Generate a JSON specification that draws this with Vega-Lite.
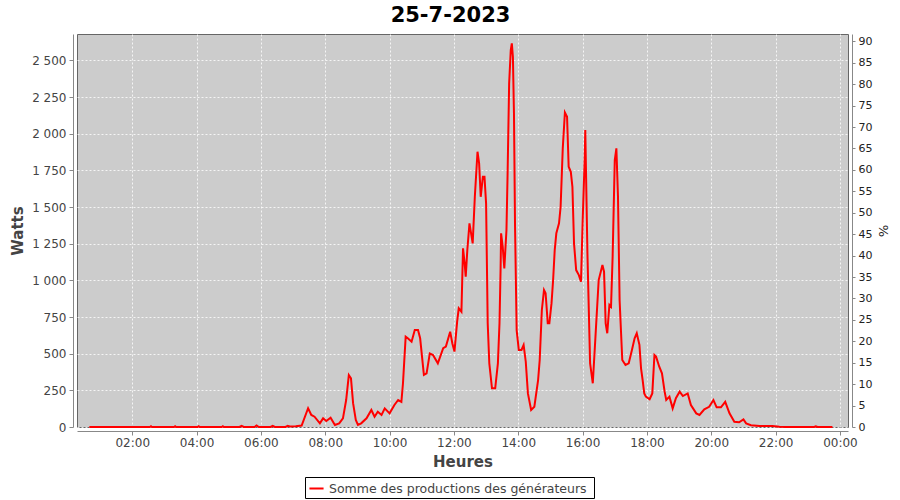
{
  "$schema": "https://vega.github.io/schema/vega-lite/v6.json",
  "width": 771,
  "height": 393,
  "autosize": {"type": "none"},
  "padding": {"left": 77, "top": 34, "right": 52, "bottom": 73},
  "background": "white",
  "config": {
    "font": "DejaVu Sans",
    "view": {"fill": "#cccccc", "stroke": "#666666", "strokeWidth": 1}
  },
  "title": {"text": "25-7-2023", "fontSize": 21, "fontWeight": "bold", "color": "#000000", "font": "DejaVu Sans", "offset": 8, "dx": -12},
  "layer": [
    {
      "data": {"values": [
        {"t": "2023-07-25T00:40", "w": 0},
        {"t": "2023-07-25T01:20", "w": 0},
        {"t": "2023-07-25T02:00", "w": 0},
        {"t": "2023-07-25T02:33", "w": 0},
        {"t": "2023-07-25T02:35", "w": 5},
        {"t": "2023-07-25T02:37", "w": 0},
        {"t": "2023-07-25T03:18", "w": 0},
        {"t": "2023-07-25T03:20", "w": 5},
        {"t": "2023-07-25T03:22", "w": 0},
        {"t": "2023-07-25T04:02", "w": 0},
        {"t": "2023-07-25T04:04", "w": 5},
        {"t": "2023-07-25T04:06", "w": 0},
        {"t": "2023-07-25T04:47", "w": 0},
        {"t": "2023-07-25T04:49", "w": 5},
        {"t": "2023-07-25T04:51", "w": 0},
        {"t": "2023-07-25T05:20", "w": 0},
        {"t": "2023-07-25T05:24", "w": 8},
        {"t": "2023-07-25T05:28", "w": 0},
        {"t": "2023-07-25T05:48", "w": 0},
        {"t": "2023-07-25T05:52", "w": 10},
        {"t": "2023-07-25T05:56", "w": 0},
        {"t": "2023-07-25T06:18", "w": 0},
        {"t": "2023-07-25T06:22", "w": 8},
        {"t": "2023-07-25T06:26", "w": 0},
        {"t": "2023-07-25T06:46", "w": 0},
        {"t": "2023-07-25T06:50", "w": 8},
        {"t": "2023-07-25T06:54", "w": 3},
        {"t": "2023-07-25T07:05", "w": 5},
        {"t": "2023-07-25T07:16", "w": 10},
        {"t": "2023-07-25T07:28", "w": 128},
        {"t": "2023-07-25T07:34", "w": 82},
        {"t": "2023-07-25T07:40", "w": 70},
        {"t": "2023-07-25T07:50", "w": 25},
        {"t": "2023-07-25T07:56", "w": 59},
        {"t": "2023-07-25T08:02", "w": 41},
        {"t": "2023-07-25T08:10", "w": 63},
        {"t": "2023-07-25T08:18", "w": 14},
        {"t": "2023-07-25T08:26", "w": 25},
        {"t": "2023-07-25T08:33", "w": 59},
        {"t": "2023-07-25T08:39", "w": 184},
        {"t": "2023-07-25T08:44", "w": 354},
        {"t": "2023-07-25T08:48", "w": 332},
        {"t": "2023-07-25T08:52", "w": 161},
        {"t": "2023-07-25T08:57", "w": 48},
        {"t": "2023-07-25T09:01", "w": 14},
        {"t": "2023-07-25T09:07", "w": 25},
        {"t": "2023-07-25T09:17", "w": 59},
        {"t": "2023-07-25T09:26", "w": 116},
        {"t": "2023-07-25T09:32", "w": 70},
        {"t": "2023-07-25T09:38", "w": 104},
        {"t": "2023-07-25T09:45", "w": 82},
        {"t": "2023-07-25T09:51", "w": 127},
        {"t": "2023-07-25T10:00", "w": 93},
        {"t": "2023-07-25T10:09", "w": 150},
        {"t": "2023-07-25T10:16", "w": 184},
        {"t": "2023-07-25T10:22", "w": 172},
        {"t": "2023-07-25T10:25", "w": 298},
        {"t": "2023-07-25T10:30", "w": 616},
        {"t": "2023-07-25T10:34", "w": 605},
        {"t": "2023-07-25T10:41", "w": 582},
        {"t": "2023-07-25T10:47", "w": 661},
        {"t": "2023-07-25T10:53", "w": 661},
        {"t": "2023-07-25T10:57", "w": 605},
        {"t": "2023-07-25T11:04", "w": 355},
        {"t": "2023-07-25T11:09", "w": 366},
        {"t": "2023-07-25T11:15", "w": 502},
        {"t": "2023-07-25T11:21", "w": 491},
        {"t": "2023-07-25T11:30", "w": 434},
        {"t": "2023-07-25T11:40", "w": 537},
        {"t": "2023-07-25T11:45", "w": 548},
        {"t": "2023-07-25T11:53", "w": 650},
        {"t": "2023-07-25T11:57", "w": 571},
        {"t": "2023-07-25T12:01", "w": 514},
        {"t": "2023-07-25T12:06", "w": 718},
        {"t": "2023-07-25T12:09", "w": 809},
        {"t": "2023-07-25T12:14", "w": 786},
        {"t": "2023-07-25T12:17", "w": 1218},
        {"t": "2023-07-25T12:20", "w": 1116},
        {"t": "2023-07-25T12:22", "w": 1025},
        {"t": "2023-07-25T12:25", "w": 1207},
        {"t": "2023-07-25T12:29", "w": 1389},
        {"t": "2023-07-25T12:32", "w": 1321},
        {"t": "2023-07-25T12:35", "w": 1252},
        {"t": "2023-07-25T12:39", "w": 1570},
        {"t": "2023-07-25T12:44", "w": 1877},
        {"t": "2023-07-25T12:47", "w": 1798},
        {"t": "2023-07-25T12:50", "w": 1570},
        {"t": "2023-07-25T12:54", "w": 1707},
        {"t": "2023-07-25T12:57", "w": 1707},
        {"t": "2023-07-25T13:00", "w": 1525},
        {"t": "2023-07-25T13:03", "w": 707},
        {"t": "2023-07-25T13:06", "w": 434},
        {"t": "2023-07-25T13:11", "w": 264},
        {"t": "2023-07-25T13:17", "w": 264},
        {"t": "2023-07-25T13:22", "w": 434},
        {"t": "2023-07-25T13:25", "w": 707},
        {"t": "2023-07-25T13:27", "w": 1070},
        {"t": "2023-07-25T13:28", "w": 1321},
        {"t": "2023-07-25T13:31", "w": 1229},
        {"t": "2023-07-25T13:34", "w": 1082},
        {"t": "2023-07-25T13:38", "w": 1343},
        {"t": "2023-07-25T13:40", "w": 1707},
        {"t": "2023-07-25T13:43", "w": 2343},
        {"t": "2023-07-25T13:46", "w": 2570},
        {"t": "2023-07-25T13:48", "w": 2616},
        {"t": "2023-07-25T13:50", "w": 2525},
        {"t": "2023-07-25T13:52", "w": 2139},
        {"t": "2023-07-25T13:54", "w": 1366},
        {"t": "2023-07-25T13:57", "w": 661},
        {"t": "2023-07-25T14:01", "w": 525},
        {"t": "2023-07-25T14:06", "w": 525},
        {"t": "2023-07-25T14:10", "w": 559},
        {"t": "2023-07-25T14:14", "w": 445},
        {"t": "2023-07-25T14:18", "w": 229},
        {"t": "2023-07-25T14:24", "w": 116},
        {"t": "2023-07-25T14:30", "w": 138},
        {"t": "2023-07-25T14:37", "w": 320},
        {"t": "2023-07-25T14:40", "w": 457},
        {"t": "2023-07-25T14:44", "w": 798},
        {"t": "2023-07-25T14:48", "w": 934},
        {"t": "2023-07-25T14:51", "w": 912},
        {"t": "2023-07-25T14:55", "w": 707},
        {"t": "2023-07-25T14:58", "w": 707},
        {"t": "2023-07-25T15:02", "w": 843},
        {"t": "2023-07-25T15:05", "w": 1002},
        {"t": "2023-07-25T15:08", "w": 1207},
        {"t": "2023-07-25T15:11", "w": 1321},
        {"t": "2023-07-25T15:16", "w": 1389},
        {"t": "2023-07-25T15:19", "w": 1502},
        {"t": "2023-07-25T15:23", "w": 1900},
        {"t": "2023-07-25T15:27", "w": 2145},
        {"t": "2023-07-25T15:31", "w": 2116},
        {"t": "2023-07-25T15:34", "w": 1775},
        {"t": "2023-07-25T15:38", "w": 1740},
        {"t": "2023-07-25T15:41", "w": 1638},
        {"t": "2023-07-25T15:44", "w": 1252},
        {"t": "2023-07-25T15:48", "w": 1070},
        {"t": "2023-07-25T15:53", "w": 1036},
        {"t": "2023-07-25T15:57", "w": 991},
        {"t": "2023-07-25T16:00", "w": 1389},
        {"t": "2023-07-25T16:04", "w": 1843},
        {"t": "2023-07-25T16:05", "w": 2025},
        {"t": "2023-07-25T16:09", "w": 1184},
        {"t": "2023-07-25T16:14", "w": 434},
        {"t": "2023-07-25T16:19", "w": 298},
        {"t": "2023-07-25T16:24", "w": 616},
        {"t": "2023-07-25T16:30", "w": 1002},
        {"t": "2023-07-25T16:37", "w": 1104},
        {"t": "2023-07-25T16:40", "w": 1059},
        {"t": "2023-07-25T16:43", "w": 707},
        {"t": "2023-07-25T16:46", "w": 639},
        {"t": "2023-07-25T16:50", "w": 832},
        {"t": "2023-07-25T16:53", "w": 820},
        {"t": "2023-07-25T16:56", "w": 1161},
        {"t": "2023-07-25T17:00", "w": 1820},
        {"t": "2023-07-25T17:03", "w": 1900},
        {"t": "2023-07-25T17:06", "w": 1570},
        {"t": "2023-07-25T17:09", "w": 866},
        {"t": "2023-07-25T17:14", "w": 457},
        {"t": "2023-07-25T17:20", "w": 423},
        {"t": "2023-07-25T17:26", "w": 434},
        {"t": "2023-07-25T17:32", "w": 525},
        {"t": "2023-07-25T17:37", "w": 605},
        {"t": "2023-07-25T17:41", "w": 639},
        {"t": "2023-07-25T17:46", "w": 560},
        {"t": "2023-07-25T17:49", "w": 400},
        {"t": "2023-07-25T17:52", "w": 320},
        {"t": "2023-07-25T17:55", "w": 229},
        {"t": "2023-07-25T17:58", "w": 207},
        {"t": "2023-07-25T18:05", "w": 189},
        {"t": "2023-07-25T18:10", "w": 229},
        {"t": "2023-07-25T18:14", "w": 491},
        {"t": "2023-07-25T18:17", "w": 480},
        {"t": "2023-07-25T18:23", "w": 411},
        {"t": "2023-07-25T18:28", "w": 366},
        {"t": "2023-07-25T18:33", "w": 241},
        {"t": "2023-07-25T18:36", "w": 184},
        {"t": "2023-07-25T18:42", "w": 207},
        {"t": "2023-07-25T18:48", "w": 127},
        {"t": "2023-07-25T18:54", "w": 196},
        {"t": "2023-07-25T19:01", "w": 241},
        {"t": "2023-07-25T19:07", "w": 211},
        {"t": "2023-07-25T19:16", "w": 229},
        {"t": "2023-07-25T19:22", "w": 150},
        {"t": "2023-07-25T19:32", "w": 93},
        {"t": "2023-07-25T19:38", "w": 82},
        {"t": "2023-07-25T19:47", "w": 120},
        {"t": "2023-07-25T19:56", "w": 138},
        {"t": "2023-07-25T20:04", "w": 184},
        {"t": "2023-07-25T20:10", "w": 134},
        {"t": "2023-07-25T20:18", "w": 134},
        {"t": "2023-07-25T20:26", "w": 172},
        {"t": "2023-07-25T20:34", "w": 93},
        {"t": "2023-07-25T20:43", "w": 36},
        {"t": "2023-07-25T20:52", "w": 32},
        {"t": "2023-07-25T21:00", "w": 52},
        {"t": "2023-07-25T21:05", "w": 25},
        {"t": "2023-07-25T21:14", "w": 12},
        {"t": "2023-07-25T21:30", "w": 7},
        {"t": "2023-07-25T21:54", "w": 7},
        {"t": "2023-07-25T22:07", "w": 2},
        {"t": "2023-07-25T22:20", "w": 0},
        {"t": "2023-07-25T22:44", "w": 0},
        {"t": "2023-07-25T23:12", "w": 0},
        {"t": "2023-07-25T23:15", "w": 5},
        {"t": "2023-07-25T23:18", "w": 0},
        {"t": "2023-07-25T23:46", "w": 0}
      ]},
      "mark": {"type": "line", "strokeWidth": 2, "interpolate": "linear"},
      "encoding": {
        "x": {
          "field": "t", "type": "temporal",
          "scale": {"domain": [
            {"year": 2023, "month": 7, "date": 25, "hours": 0, "minutes": 17},
            {"year": 2023, "month": 7, "date": 26, "hours": 0, "minutes": 15}
          ]},
          "axis": {
            "title": "Heures",
            "format": "%H:%M",
            "values": [
              {"year": 2023, "month": 7, "date": 25, "hours": 2},
              {"year": 2023, "month": 7, "date": 25, "hours": 4},
              {"year": 2023, "month": 7, "date": 25, "hours": 6},
              {"year": 2023, "month": 7, "date": 25, "hours": 8},
              {"year": 2023, "month": 7, "date": 25, "hours": 10},
              {"year": 2023, "month": 7, "date": 25, "hours": 12},
              {"year": 2023, "month": 7, "date": 25, "hours": 14},
              {"year": 2023, "month": 7, "date": 25, "hours": 16},
              {"year": 2023, "month": 7, "date": 25, "hours": 18},
              {"year": 2023, "month": 7, "date": 25, "hours": 20},
              {"year": 2023, "month": 7, "date": 25, "hours": 22},
              {"year": 2023, "month": 7, "date": 26, "hours": 0}
            ],
            "labelFontSize": 12, "labelColor": "#444444",
            "titleFontSize": 15, "titleFontWeight": "bold", "titleColor": "#444444",
            "offset": 4, "tickSize": 4, "tickColor": "#888888", "domainColor": "#888888",
            "gridColor": "#ffffff", "gridDash": [2, 2], "gridOpacity": 0.8,
            "labelPadding": 2, "titlePadding": 6, "labelFlush": false, "labelOverlap": false
          }
        },
        "y": {
          "field": "w", "type": "quantitative",
          "scale": {"domain": [0, 2680], "nice": false, "zero": true},
          "axis": {
            "title": "Watts",
            "values": [0, 250, 500, 750, 1000, 1250, 1500, 1750, 2000, 2250, 2500],
            "labelExpr": "replace(format(datum.value, ','), ',', ' ')",
            "labelFontSize": 12, "labelColor": "#444444",
            "titleFontSize": 15, "titleFontWeight": "bold", "titleColor": "#444444",
            "offset": 4, "tickSize": 4, "tickColor": "#888888", "domainColor": "#888888",
            "gridColor": "#ffffff", "gridDash": [2, 2], "gridOpacity": 0.8,
            "labelPadding": 3, "titlePadding": 6
          }
        },
        "color": {
          "datum": "Somme des productions des  générateurs",
          "type": "nominal",
          "scale": {"range": ["#ff0000"]},
          "legend": {
            "orient": "none", "legendX": 228, "legendY": 443, "title": null,
            "symbolType": "stroke", "symbolStrokeWidth": 2, "symbolSize": 200,
            "labelFontSize": 12.5, "labelColor": "#444444", "labelFont": "DejaVu Sans",
            "labelLimit": 0, "labelOffset": 4,
            "strokeColor": "#000000", "padding": 3
          }
        }
      }
    },
    {
      "data": {"values": [{"p": 0}, {"p": 90}]},
      "mark": {"type": "point", "opacity": 0},
      "encoding": {
        "y": {
          "field": "p", "type": "quantitative",
          "scale": {"domain": [0, 91.7], "nice": false},
          "axis": {
            "orient": "right", "title": "%",
            "values": [0, 5, 10, 15, 20, 25, 30, 35, 40, 45, 50, 55, 60, 65, 70, 75, 80, 85, 90],
            "labelFontSize": 11, "labelColor": "#222222",
            "titleFontSize": 13, "titleFontWeight": "normal", "titleColor": "#222222",
            "offset": 4, "tickSize": 3, "tickColor": "#888888", "domainColor": "#888888",
            "grid": false, "labelPadding": 3, "titlePadding": 4
          }
        }
      }
    }
  ],
  "resolve": {"scale": {"y": "independent"}}
}
